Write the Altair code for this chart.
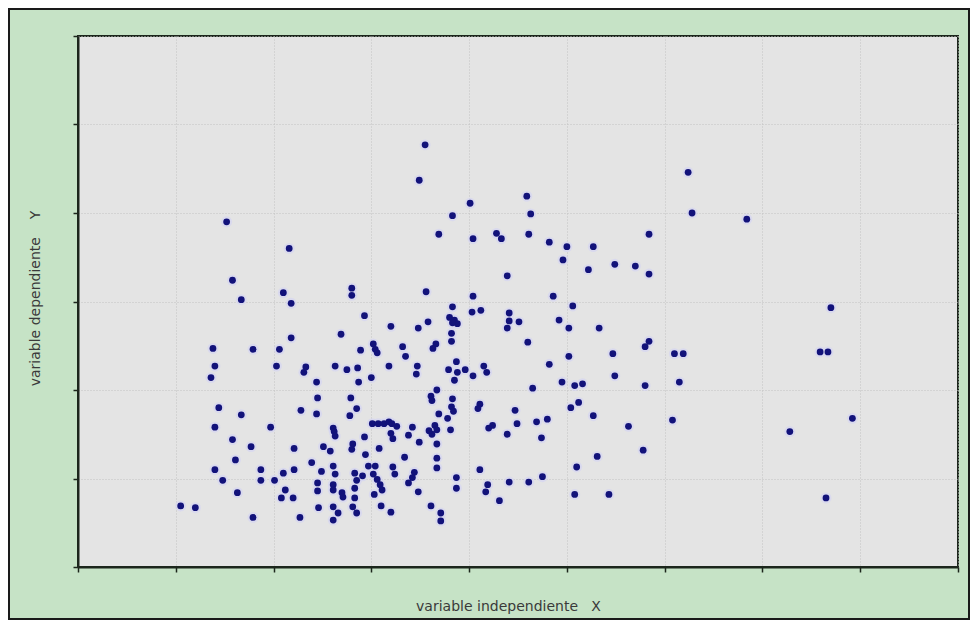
import altair as alt
import pandas as pd

# values (x: 0..9 grid units, y: 0..6 grid units)
xs = [1.05, 1.20, 1.38, 1.40, 1.36, 1.44, 1.40, 1.40, 1.48, 1.52,
      1.58, 1.58, 1.61, 1.63, 1.67, 1.67, 1.77, 1.79, 1.79, 1.87,
      1.87, 1.97, 2.01, 2.03, 2.06, 2.10, 2.10, 2.12, 2.08, 2.16,
      2.18, 2.18, 2.20, 2.21, 2.21, 2.27, 2.28, 2.33, 2.31, 2.39,
      2.44, 2.45, 2.44, 2.45, 2.45, 2.46, 2.51, 2.58, 2.49, 2.61,
      2.63, 2.61, 2.62, 2.63, 2.61, 2.61, 2.70, 2.71, 2.61, 2.66,
      2.61, 2.63, 2.69, 2.75, 2.78, 2.85, 2.79, 2.80, 2.80, 2.81,
      2.80, 2.81, 2.85, 2.83, 2.85, 2.83, 2.83, 2.86, 2.87, 2.89,
      2.93, 2.93, 2.94, 2.91, 2.97, 3.04, 3.02, 3.06, 3.09, 3.11,
      3.03, 3.00, 3.02, 3.04, 3.06, 3.01, 3.07, 3.13, 3.18, 3.21,
      3.26, 3.08, 3.10, 3.18, 3.20, 3.20, 3.22, 3.20, 3.22, 3.24,
      3.32, 3.35, 3.34, 3.42, 3.38, 3.44, 3.42, 3.38, 3.48, 3.47,
      3.46, 3.48, 3.49, 3.49, 3.55, 3.56, 3.58, 3.65, 3.67, 3.62,
      3.59, 3.67, 3.61, 3.62, 3.61, 3.66, 3.63, 3.67, 3.67, 3.67,
      3.69, 3.69, 3.71, 3.71, 3.78, 3.79, 3.87, 3.88, 3.96, 3.85,
      4.04, 3.80, 3.85, 3.88, 3.83, 3.82, 3.82, 3.83, 3.82, 3.84,
      3.81, 3.83, 3.83, 3.87, 3.87, 4.01, 4.03, 4.12, 4.04, 4.04,
      4.11, 4.09, 4.11, 4.15, 4.18, 4.19, 4.17, 4.20, 4.24, 4.28,
      4.33, 4.31, 4.39, 4.39, 4.41, 4.41, 4.39, 4.41, 4.47, 4.49,
      4.51, 4.59, 4.60, 4.61, 4.61, 4.63, 4.65, 4.69, 4.80, 4.74,
      4.75, 4.82, 4.82, 4.86, 4.92, 4.95, 4.96, 5.00, 5.02, 5.02,
      5.04, 5.12, 5.06, 5.08, 5.16, 5.08, 5.10, 5.22, 5.27, 5.27,
      5.31, 5.33, 5.43, 5.47, 5.49, 5.49, 5.63, 5.70, 5.78, 5.80,
      5.80, 5.84, 5.84, 5.84, 6.08, 6.10, 6.19, 6.15, 6.24, 6.28,
      6.84, 7.28, 7.59, 7.67, 7.65, 7.70, 7.92]
ys = [0.69, 0.67, 2.47, 2.27, 2.14, 1.80, 1.58, 1.10, 0.98, 3.90,
      3.24, 1.44, 1.21, 0.84, 3.02, 1.72, 1.36, 2.46, 0.56, 1.10,
      0.98, 1.58, 0.98, 2.27, 2.46, 3.10, 1.06, 0.87, 0.78, 3.60,
      2.98, 2.59, 0.78, 1.34, 1.10, 0.56, 1.77, 2.26, 2.20, 1.18,
      2.09, 1.91, 1.73, 0.95, 0.86, 0.67, 1.36, 1.31, 1.08, 1.14,
      1.05, 1.57, 1.53, 1.48, 0.93, 0.87, 0.84, 0.79, 0.68, 0.61,
      0.53, 2.27, 2.63, 2.23, 1.71, 1.79, 1.91, 3.15, 3.07, 1.39,
      1.33, 0.68, 0.61, 1.06, 0.98, 0.89, 0.78, 2.25, 2.09, 2.45,
      2.84, 1.47, 1.27, 1.03, 1.14, 1.14, 1.05, 0.99, 0.93, 0.87,
      0.82, 2.14, 2.52, 2.46, 2.42, 1.62, 1.62, 1.62, 1.64, 1.62,
      1.59, 1.34, 0.69, 2.27, 2.72, 1.51, 1.45, 0.62, 1.13, 1.05,
      2.49, 2.38, 1.24, 1.58, 1.49, 1.07, 1.01, 0.95, 2.70, 2.27,
      2.18, 0.85, 1.41, 4.37, 4.77, 3.11, 2.77, 1.60, 1.55, 1.50,
      1.54, 2.00, 1.93, 1.88, 0.69, 2.52, 2.47, 1.39, 1.23, 1.12,
      3.76, 1.73, 0.61, 0.52, 1.68, 2.23, 2.32, 2.20, 2.23, 2.11,
      2.16, 2.82, 2.79, 2.75, 2.76, 2.64, 2.55, 1.90, 1.81, 1.76,
      1.55, 3.97, 2.94, 1.01, 0.89, 4.11, 2.88, 2.90, 3.71, 3.06,
      1.84, 1.79, 1.10, 2.27, 2.20, 0.93, 0.85, 1.57, 1.60, 3.77,
      3.71, 0.75, 3.29, 1.50, 2.87, 2.78, 2.70, 0.96, 1.77, 1.62,
      2.77, 4.19, 2.54, 3.76, 0.96, 3.99, 2.02, 1.64, 1.67, 1.46,
      1.02, 3.67, 2.29, 3.06, 2.79, 2.09, 3.47, 3.62, 2.70, 2.38,
      1.80, 1.86, 2.95, 2.05, 2.07, 0.82, 1.13, 3.36, 3.62, 1.71,
      1.25, 2.70, 0.82, 2.41, 3.42, 2.16, 1.59, 3.40, 1.32, 2.05,
      2.49, 2.55, 3.76, 3.31, 1.66, 2.41, 2.41, 2.09, 4.46, 4.00,
      3.93, 1.53, 2.43, 2.43, 0.78, 2.93, 1.68]

x_ticks = list(range(0, 10))
y_ticks = list(range(0, 7))
x_title = "variable independiente\u00a0\u00a0\u00a0X"
y_title = "variable dependiente\u00a0\u00a0\u00a0\u00a0Y"

df = pd.DataFrame({"x": xs, "y": ys})

AX = "#1c261c"
TXT = "#3a3a3a"

xenc = alt.X(
    "x:Q",
    scale=alt.Scale(domain=[0, 9], nice=False, zero=False),
    axis=alt.Axis(values=x_ticks, labels=False, tickSize=5, tickColor=AX, tickWidth=1.5,
                  domainColor=AX, domainWidth=2, grid=True, gridColor="#c2c2c2",
                  gridDash=[1, 2], gridWidth=1, title=x_title, titleFont="DejaVu Sans",
                  titleFontSize=14, titleFontWeight="normal", titleColor=TXT, titlePadding=27,
                  titleX=430),
)
yenc = alt.Y(
    "y:Q",
    scale=alt.Scale(domain=[0, 6], nice=False, zero=False),
    axis=alt.Axis(values=y_ticks, labels=False, tickSize=5, tickColor=AX, tickWidth=1.5,
                  domainColor=AX, domainWidth=2, grid=True, gridColor="#c2c2c2",
                  gridDash=[1, 2], gridWidth=1, title=y_title, titleFont="DejaVu Sans",
                  titleFontSize=14, titleFontWeight="normal", titleColor=TXT, titlePadding=30,
                  titleY=262),
)

halo = alt.Chart(df).mark_circle(size=120, color="#d4d4f2", opacity=0.7).encode(x=xenc, y=yenc)
pts = alt.Chart(df).mark_circle(size=46, color="#12127a", opacity=1).encode(x=xenc, y=yenc)

frame = alt.Chart(pd.DataFrame({"a": [0]})).mark_rect(
    filled=False, stroke="#1a1a1a", strokeWidth=2, clip=False
).encode(x=alt.value(-69), x2=alt.value(891), y=alt.value(-27), y2=alt.value(583))

chart = alt.layer(halo, pts, frame).properties(
    width=880, height=531,
    autosize=alt.AutoSizeParams(type="none"),
    padding={"left": 70, "top": 28, "right": 12, "bottom": 53},
    background="#c6e3c6",
).configure_view(
    fill="#e4e4e4", stroke=AX, strokeWidth=2
)

chart.save("out.html", embed_options={"renderer": "svg", "actions": False})
